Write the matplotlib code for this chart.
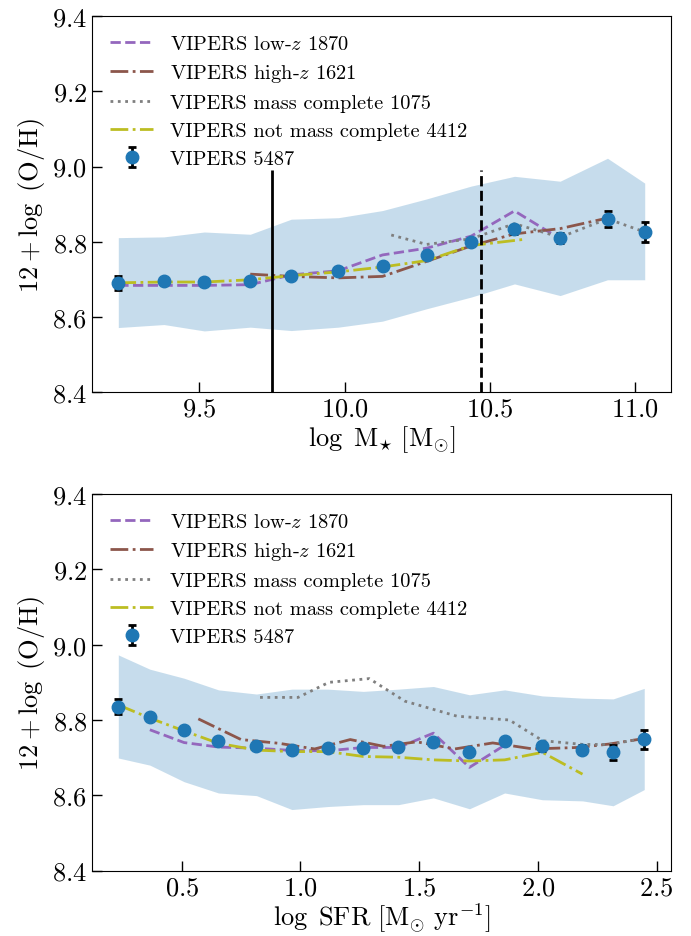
import numpy as np
import matplotlib.pyplot as plt

plt.rcParams['font.family'] = 'serif'
plt.rcParams['font.serif'] = ['cmr10']
plt.rcParams['mathtext.fontset'] = 'cm'
plt.rcParams['axes.formatter.use_mathtext'] = True

# --- mass-metallicity relation ---
mass_x = [9.221, 9.378, 9.517, 9.675, 9.816, 9.978, 10.130, 10.282, 10.435, 10.584, 10.741, 10.904, 11.032]
mass_oh = [8.690, 8.696, 8.694, 8.696, 8.710, 8.721, 8.735, 8.764, 8.799, 8.833, 8.810, 8.861, 8.826]
mass_err = [0.019, 0.008, 0.007, 0.006, 0.006, 0.006, 0.006, 0.007, 0.008, 0.011, 0.013, 0.021, 0.026]
mass_hi = [8.811, 8.813, 8.826, 8.820, 8.860, 8.864, 8.883, 8.914, 8.948, 8.974, 8.961, 9.022, 8.956]
mass_lo = [8.572, 8.580, 8.563, 8.573, 8.564, 8.573, 8.589, 8.622, 8.653, 8.688, 8.657, 8.699, 8.699]

mass_lowz_x = [9.221, 9.378, 9.517, 9.675, 9.816, 9.978, 10.130, 10.282, 10.435, 10.584, 10.741]
mass_lowz = [8.684, 8.684, 8.684, 8.686, 8.712, 8.723, 8.765, 8.783, 8.815, 8.882, 8.808]
mass_highz_x = [9.675, 9.816, 9.978, 10.130, 10.282, 10.435, 10.584, 10.741, 10.904]
mass_highz = [8.714, 8.708, 8.704, 8.708, 8.748, 8.789, 8.821, 8.835, 8.863]
mass_comp_x = [10.16, 10.282, 10.435, 10.584, 10.741, 10.904, 11.032]
mass_comp = [8.818, 8.793, 8.808, 8.848, 8.812, 8.861, 8.826]
mass_ncomp_x = [9.221, 9.378, 9.517, 9.675, 9.816, 9.978, 10.130, 10.282, 10.435, 10.612]
mass_ncomp = [8.691, 8.693, 8.693, 8.699, 8.710, 8.720, 8.733, 8.750, 8.790, 8.806]

mass_cuts = [9.75, 10.47]

# --- SFR-metallicity relation ---
sfr_x = [0.233, 0.366, 0.510, 0.655, 0.815, 0.964, 1.115, 1.265, 1.413, 1.560, 1.712, 1.860, 2.019, 2.188, 2.317, 2.448]
sfr_oh = [8.835, 8.809, 8.774, 8.743, 8.732, 8.721, 8.725, 8.725, 8.727, 8.742, 8.714, 8.743, 8.730, 8.721, 8.714, 8.749]
sfr_err = [0.020, 0.008, 0.008, 0.007, 0.006, 0.006, 0.006, 0.006, 0.006, 0.007, 0.008, 0.008, 0.012, 0.012, 0.020, 0.025]
sfr_hi = [8.973, 8.935, 8.911, 8.880, 8.869, 8.882, 8.882, 8.876, 8.882, 8.889, 8.867, 8.880, 8.864, 8.858, 8.856, 8.884]
sfr_lo = [8.699, 8.680, 8.636, 8.606, 8.599, 8.562, 8.570, 8.575, 8.575, 8.593, 8.564, 8.606, 8.588, 8.585, 8.572, 8.615]

sfr_lowz_x = [0.366, 0.510, 0.655, 0.815, 0.964, 1.115, 1.265, 1.413, 1.560, 1.712, 1.860]
sfr_lowz = [8.774, 8.740, 8.728, 8.725, 8.719, 8.718, 8.727, 8.727, 8.765, 8.674, 8.733]
sfr_highz_x = [0.57, 0.75, 0.91, 1.06, 1.21, 1.35, 1.49, 1.65, 1.81, 1.98, 2.17, 2.30, 2.45]
sfr_highz = [8.803, 8.748, 8.738, 8.723, 8.748, 8.730, 8.742, 8.723, 8.739, 8.723, 8.727, 8.736, 8.751]
sfr_comp_x = [0.83, 0.99, 1.12, 1.29, 1.44, 1.66, 1.88, 2.02, 2.19, 2.30, 2.45]
sfr_comp = [8.860, 8.860, 8.900, 8.910, 8.850, 8.810, 8.800, 8.745, 8.735, 8.735, 8.751]
sfr_ncomp_x = [0.233, 0.366, 0.510, 0.655, 0.815, 0.964, 1.115, 1.265, 1.413, 1.560, 1.712, 1.860, 2.019, 2.188]
sfr_ncomp = [8.840, 8.805, 8.771, 8.738, 8.720, 8.716, 8.716, 8.703, 8.701, 8.694, 8.691, 8.694, 8.714, 8.656]

labels = ['VIPERS low-$z$ 1870', 'VIPERS high-$z$ 1621', 'VIPERS mass complete 1075',
          'VIPERS not mass complete 4412', 'VIPERS 5487']

fig = plt.figure(figsize=(6.91, 9.37), dpi=100)
ax1 = fig.add_axes([0.1331, 0.5803, 0.838, 0.4015])
ax2 = fig.add_axes([0.1331, 0.0699, 0.838, 0.4016])


def draw_panel(ax, x, oh, err, lo, hi, lowz, highz, comp, ncomp):
    ax.fill_between(x, lo, hi, color='tab:blue', alpha=0.25, lw=0)
    ax.plot(*lowz, color='tab:purple', ls='--', lw=2, label=labels[0])
    ax.plot(*highz, color='tab:brown', ls='-.', lw=2, label=labels[1])
    ax.plot(*comp, color='tab:gray', ls=':', lw=2, label=labels[2])
    ax.plot(*ncomp, color='tab:olive', ls='-.', lw=2, label=labels[3])
    ax.errorbar(x, oh, yerr=err, fmt='o', color='tab:blue', ms=9, ecolor='k',
                elinewidth=2, capsize=3, capthick=2, label=labels[4], zorder=3)
    ax.set_ylim(8.4, 9.4)
    ax.set_yticks(np.arange(8.4, 9.41, 0.2))
    ax.tick_params(direction='in', length=7, width=1, labelsize=19)
    ax.set_ylabel(r'$12 + \log\ {\rm (O/H)}$', fontsize=19)
    ax.legend(loc='upper left', frameon=False, fontsize=14.7, handlelength=2.1,
              handletextpad=0.8, labelspacing=0.47)


draw_panel(ax1, mass_x, mass_oh, mass_err, mass_lo, mass_hi,
           (mass_lowz_x, mass_lowz), (mass_highz_x, mass_highz),
           (mass_comp_x, mass_comp), (mass_ncomp_x, mass_ncomp))
ax1.vlines(mass_cuts[0], 8.4, 8.99, color='k', lw=2)
ax1.vlines(mass_cuts[1], 8.4, 8.99, color='k', lw=2, linestyles='--')
ax1.set_xticks([9.5, 10.0, 10.5, 11.0])
ax1.set_xlabel(r'$\log\ {\rm M}_{\star}\ [{\rm M}_{\odot}]$', fontsize=19, labelpad=2)

draw_panel(ax2, sfr_x, sfr_oh, sfr_err, sfr_lo, sfr_hi,
           (sfr_lowz_x, sfr_lowz), (sfr_highz_x, sfr_highz),
           (sfr_comp_x, sfr_comp), (sfr_ncomp_x, sfr_ncomp))
ax2.set_xticks([0.5, 1.0, 1.5, 2.0, 2.5])
ax2.set_xlabel(r'$\log\ {\rm SFR}\ [{\rm M}_{\odot}\ {\rm yr}^{-1}]$', fontsize=19, labelpad=1)

fig.savefig('out.png', dpi=100)
